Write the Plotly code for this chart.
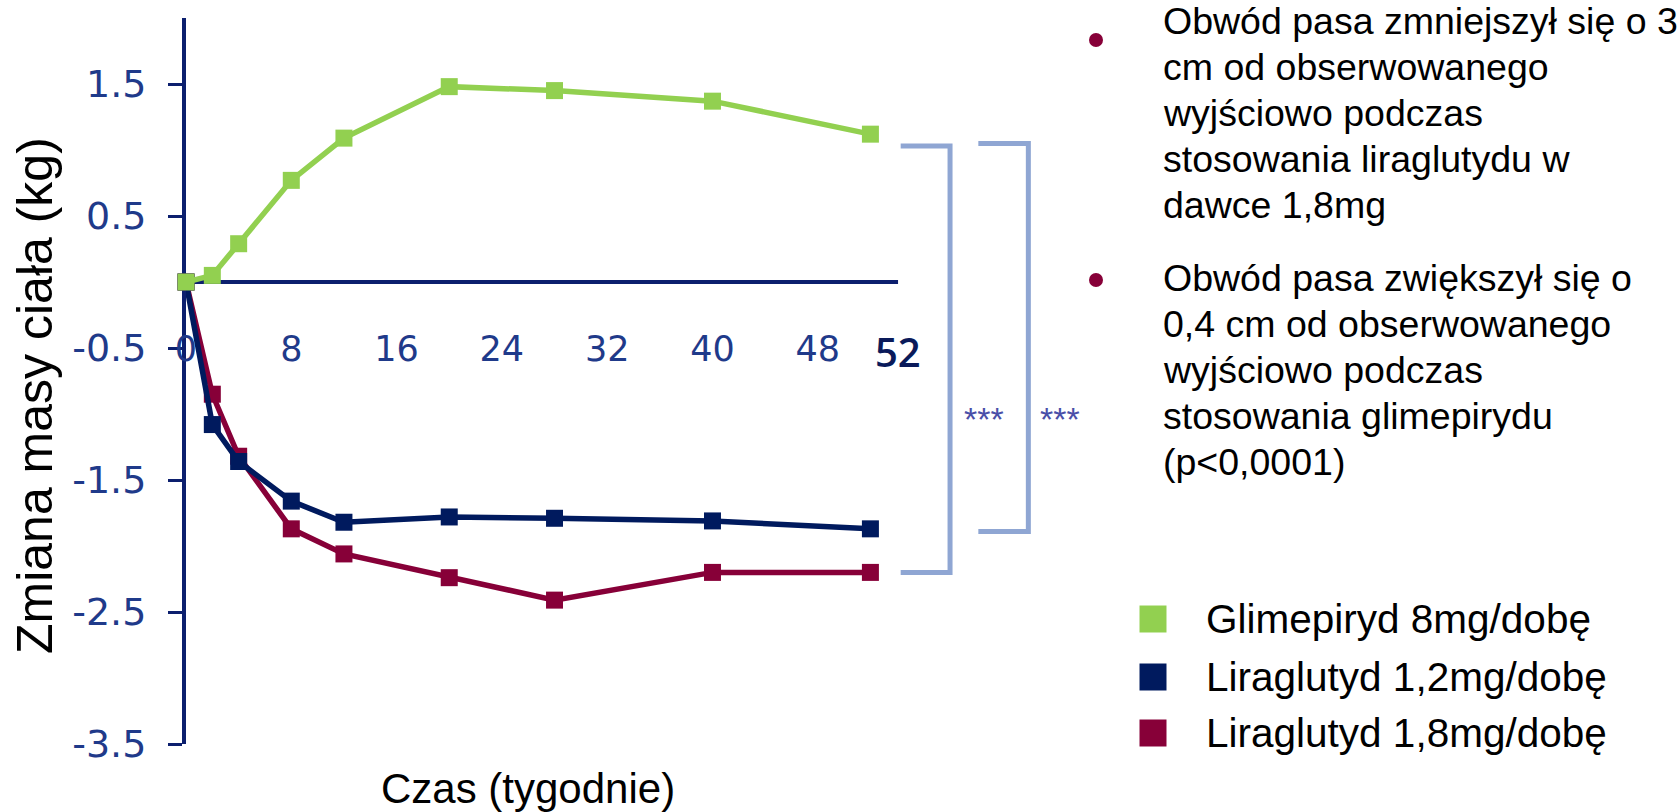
import plotly.graph_objects as go

# ---- data -----------------------------------------------------------------
weeks = [0, 2, 4, 8, 12, 20, 28, 40, 52]
glimepiryd_8mg = [0, 0.05, 0.29, 0.77, 1.09, 1.48, 1.45, 1.37, 1.12]
liraglutyd_12mg = [0, -1.08, -1.36, -1.66, -1.82, -1.78, -1.79, -1.81, -1.87]
liraglutyd_18mg = [0, -0.85, -1.32, -1.87, -2.06, -2.24, -2.41, -2.20, -2.20]

series_names = ["Glimepiryd 8mg/dobę", "Liraglutyd 1,2mg/dobę", "Liraglutyd 1,8mg/dobę"]

x_tick_vals = [0, 8, 16, 24, 32, 40, 48]
x_tick_text = ["0", "8", "16", "24", "32", "40", "48"]
final_week_label = "52"
y_tick_vals = [1.5, 0.5, -0.5, -1.5, -2.5, -3.5]
y_tick_text = ["1.5", "0.5", "-0.5", "-1.5", "-2.5", "-3.5"]

x_title = "Czas (tygodnie)"
y_title = "Zmiana masy ciała (kg)"
significance = "***"
notes = [
    ["Obwód pasa zmniejszył się o 3", "cm od obserwowanego", "wyjściowo podczas",
     "stosowania liraglutydu w", "dawce 1,8mg"],
    ["Obwód pasa zwiększył się o", "0,4 cm od obserwowanego", "wyjściowo podczas",
     "stosowania glimepirydu", "(p&lt;0,0001)"],
]

# ---- styling ----------------------------------------------------------------
GREEN = "#92D050"
NAVY = "#001A5E"
CLARET = "#870038"
AXIS = "#0C1F6E"
LABEL = "#1F3A8A"
BRACKET = "#8FA6D3"
STAR = "#4A4FA8"
TEXT_FONT = "Liberation Sans, Arial, sans-serif"
NUM_FONT = "DejaVu Sans, Verdana, sans-serif"

W, H = 1678, 812
PLOT_L, PLOT_R, PLOT_T, PLOT_B = 186, 1081, 18, 744
X_RANGE = [0, 68]
Y_RANGE = [-3.5, 2.0]
X_AXIS_END = 54.1
X_LABEL_LEVEL = -0.53


def paper_x(px):
    return (px - PLOT_L) / (PLOT_R - PLOT_L)


def paper_y(py):
    return (PLOT_B - py) / (PLOT_B - PLOT_T)


fig = go.Figure()

# series: drawn claret first so navy and green sit on top
for name, values, colour in [
    (series_names[2], liraglutyd_18mg, CLARET),
    (series_names[1], liraglutyd_12mg, NAVY),
    (series_names[0], glimepiryd_8mg, GREEN),
]:
    fig.add_trace(go.Scatter(
        x=weeks, y=values, name=name, mode="lines+markers",
        line=dict(color=colour, width=5.5),
        marker=dict(symbol="square", size=17, color=colour),
        cliponaxis=False, showlegend=False,
    ))

# week labels hang below the zero line
fig.add_trace(go.Scatter(
    x=x_tick_vals, y=[X_LABEL_LEVEL] * len(x_tick_vals), mode="text",
    text=x_tick_text, textfont=dict(family=NUM_FONT, size=35, color=LABEL),
    cliponaxis=False, showlegend=False, hoverinfo="skip",
))

shapes = []
annotations = []

# zero line acting as the time axis
shapes.append(dict(type="line", xref="x", yref="y", x0=0, x1=X_AXIS_END, y0=0, y1=0,
                   line=dict(color=AXIS, width=4), layer="below"))
annotations.append(dict(xref="x", yref="y", x=X_AXIS_END, y=X_LABEL_LEVEL,
                        xanchor="center", yanchor="middle",
                        text=final_week_label, showarrow=False,
                        font=dict(family="Open Sans, sans-serif", size=40,
                                  color="#0A1A5A", weight=600)))

# significance brackets between end-of-study values
end_green = glimepiryd_8mg[-1]
bracket_specs = [
    (54.3, 58.05, end_green - 0.09, liraglutyd_18mg[-1], 60.6),
    (60.2, 64.0, end_green - 0.07, liraglutyd_12mg[-1] - 0.02, 66.4),
]
for x0, x1, top, bottom, star_x in bracket_specs:
    shapes.append(dict(
        type="path", xref="x", yref="y",
        path=f"M {x0},{top} L {x1},{top} L {x1},{bottom} L {x0},{bottom}",
        line=dict(color=BRACKET, width=5),
    ))
    annotations.append(dict(xref="x", yref="y", x=star_x, y=-1.04,
                            xanchor="center", yanchor="middle",
                            text=significance, showarrow=False,
                            font=dict(family=TEXT_FONT, size=34, color=STAR)))

# axis titles
annotations.append(dict(xref="paper", yref="paper", x=paper_x(528), y=paper_y(788),
                        xanchor="center", yanchor="middle",
                        text=x_title, showarrow=False,
                        font=dict(family=TEXT_FONT, size=42, color="black")))
annotations.append(dict(xref="paper", yref="paper", x=paper_x(35), y=paper_y(396),
                        xanchor="center", yanchor="middle",
                        text=y_title, showarrow=False, textangle=-90,
                        font=dict(family=TEXT_FONT, size=50, color="black")))

# bullet notes, one annotation per line
NOTE_X = 1161
NOTE_LINE_GAP = 46
for lines, first_y, bullet_y in zip(notes, [21.4, 278.3], [40, 280]):
    for i, line in enumerate(lines):
        annotations.append(dict(xref="paper", yref="paper",
                                x=paper_x(NOTE_X), y=paper_y(first_y + i * NOTE_LINE_GAP),
                                xanchor="left", yanchor="middle", align="left",
                                text=line, showarrow=False,
                                font=dict(family=TEXT_FONT, size=37.5, color="black")))
    r = 7
    shapes.append(dict(type="circle", xref="paper", yref="paper",
                       x0=paper_x(1096 - r), x1=paper_x(1096 + r),
                       y0=paper_y(bullet_y + r), y1=paper_y(bullet_y - r),
                       fillcolor=CLARET, line=dict(width=0)))

# legend key
half = 13.5
for name, colour, cy in zip(series_names, [GREEN, NAVY, CLARET], [619, 677, 733]):
    shapes.append(dict(type="rect", xref="paper", yref="paper",
                       x0=paper_x(1153 - half), x1=paper_x(1153 + half),
                       y0=paper_y(cy + half), y1=paper_y(cy - half),
                       fillcolor=colour, line=dict(width=0)))
    annotations.append(dict(xref="paper", yref="paper", x=paper_x(1204), y=paper_y(cy),
                            xanchor="left", yanchor="middle", text=name, showarrow=False,
                            font=dict(family=TEXT_FONT, size=40.5, color="black")))

fig.update_layout(
    width=W, height=H,
    margin=dict(l=PLOT_L, r=W - PLOT_R, t=PLOT_T, b=H - PLOT_B, pad=0),
    paper_bgcolor="white", plot_bgcolor="white",
    shapes=shapes, annotations=annotations,
    xaxis=dict(range=X_RANGE, showline=False, showticklabels=False, ticks="",
               showgrid=False, zeroline=False, fixedrange=True),
    yaxis=dict(range=Y_RANGE, showline=True, linecolor=AXIS, linewidth=4,
               ticks="outside", ticklen=14, tickwidth=3, tickcolor=AXIS,
               tickvals=y_tick_vals, ticktext=y_tick_text, ticklabelstandoff=14,
               tickfont=dict(family=NUM_FONT, size=38, color=LABEL),
               showgrid=False, zeroline=False, layer="below traces", fixedrange=True),
    showlegend=False,
)

fig.write_html("out.html")
